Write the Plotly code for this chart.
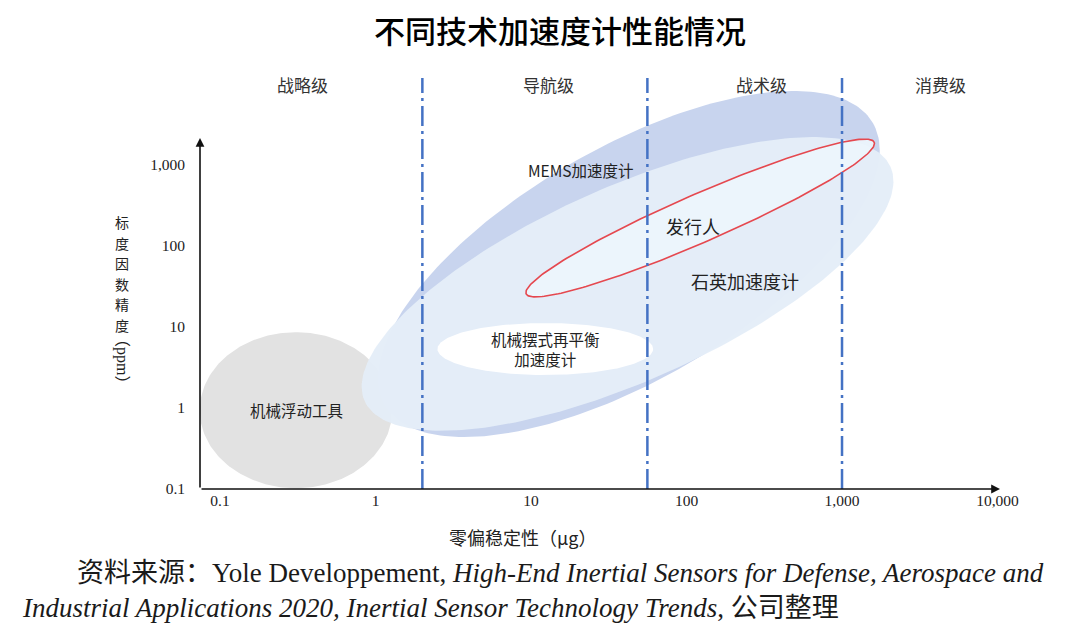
import numpy as np
import plotly.graph_objects as go

# ---------------- data ----------------
x_tick_vals = [0.1, 1, 10, 100, 1000, 10000]
x_tick_text = ["0.1", "1", "10", "100", "1,000", "10,000"]
y_tick_vals = [0.1, 1, 10, 100, 1000]
y_tick_text = ["0.1", "1", "10", "100", "1,000"]

# grade zones (bias stability, μg) and their boundaries
zone_names = ["战略级", "导航级", "战术级", "消费级"]
zone_label_x = [0.34, 12.9, 305, 4330]
zone_bounds = [2, 56, 1000]

# technology regions: major-axis endpoints (low end -> high end) in data units
tech_names = ["机械浮动工具", "MEMS加速度计", "石英加速度计", "发行人", "机械摆式再平衡<br>加速度计"]
tech_x_low = [0.074, 1.15, 0.85, 9.3, 2.5]
tech_y_low = [0.94, 1.09, 1.22, 25.7, 5.35]
tech_x_high = [1.28, 1580, 2050, 1610, 61]
tech_y_high = [0.94, 3300, 950, 1910, 5.35]
tech_label_x = [0.31, 20.9, 238, 110, 12.3]
tech_label_y = [0.94, 867, 37, 177, 5.3]

# ---------------- styling ----------------
W, H = 1080, 632
PAGE = 8  # browser body margin
# plot area in page pixels: x 200..1000, y 70..489
ML, MT = 200 - PAGE, 70 - PAGE
plot_w, plot_h = 800, 419
MR = W - ML - plot_w
MB = H - MT - plot_h
x_range = [-1.129, 4.016]
y_range = [-1.0, 4.173]
ppx = plot_w / (x_range[1] - x_range[0])
ppy = plot_h / (y_range[1] - y_range[0])


def px(xs):
    return (xs - 200) / plot_w


def py(ys):
    return (489 - ys) / plot_h


tech_half_width_px = [78, 116, 97, 24, 26]
tech_fill = ["#e2e2e2", "#c8d4ee", "rgba(228,237,248,0.97)", "rgba(237,245,252,0.92)", "#ffffff"]
tech_line = [None, None, None, "#e5484f", None]
tech_font = [15.5, 15.5, 18, 18, 15.5]

SERIF = "Liberation Serif, Noto Sans CJK SC"
CJK = "Noto Sans CJK SC"


def ellipse(x0, y0, x1, y1, b_px, n=240):
    X0, Y0 = np.log10(x0) * ppx, np.log10(y0) * ppy
    X1, Y1 = np.log10(x1) * ppx, np.log10(y1) * ppy
    cx, cy = (X0 + X1) / 2, (Y0 + Y1) / 2
    a = np.hypot(X1 - X0, Y1 - Y0) / 2
    ang = np.arctan2(Y1 - Y0, X1 - X0)
    t = np.linspace(0, 2 * np.pi, n)
    u, v = a * np.cos(t), b_px * np.sin(t)
    X = cx + u * np.cos(ang) - v * np.sin(ang)
    Y = cy + u * np.sin(ang) + v * np.cos(ang)
    return 10 ** (X / ppx), 10 ** (Y / ppy)


fig = go.Figure()

for i, name in enumerate(tech_names):
    ex, ey = ellipse(tech_x_low[i], tech_y_low[i], tech_x_high[i], tech_y_high[i],
                     tech_half_width_px[i])
    line = dict(width=0) if tech_line[i] is None else dict(color=tech_line[i], width=1.6)
    fig.add_trace(go.Scatter(x=ex, y=ey, mode="lines", fill="toself",
                             fillcolor=tech_fill[i], line=line,
                             hoverinfo="skip", showlegend=False))

top_val = 10 ** (y_range[0] + (489 - 78) / ppy)
for b in zone_bounds:
    fig.add_trace(go.Scatter(x=[b, b], y=[0.1, top_val], mode="lines",
                             line=dict(color="#4472c4", width=2.5, dash="20px,5px,3px,5px"),
                             hoverinfo="skip", showlegend=False))

ann = []
# zone labels
for name, zx in zip(zone_names, zone_label_x):
    ann.append(dict(x=np.log10(zx), y=py(85), xref="x", yref="paper",
                    xanchor="center", yanchor="middle",
                    text=name, showarrow=False,
                    font=dict(family=CJK, size=17, color="#333333")))
# technology labels
for i, name in enumerate(tech_names):
    ann.append(dict(x=np.log10(tech_label_x[i]), y=np.log10(tech_label_y[i]),
                    xref="x", yref="y", xanchor="center", yanchor="middle",
                    text=name, showarrow=False,
                    font=dict(family=CJK, size=tech_font[i], color="#222222")))
# axis arrows
ann.append(dict(x=x_range[1], y=y_range[0], xref="x", yref="y", ax=-plot_w, ay=0,
                text="", showarrow=True, arrowhead=2, arrowsize=1.1, arrowwidth=1.6,
                arrowcolor="#111111", standoff=0))
ann.append(dict(x=x_range[0], y=y_range[0] + (489 - 138) / ppy, xref="x", yref="y",
                ax=0, ay=489 - 138, text="", showarrow=True, arrowhead=2, arrowsize=1.1,
                arrowwidth=1.6, arrowcolor="#111111", standoff=0))
# y-axis title: stacked characters + rotated unit
for k, ch in enumerate("标度因数精度"):
    ann.append(dict(x=px(122), y=py(222 + 20.5 * k), xref="paper", yref="paper",
                    xanchor="center", yanchor="middle", text=ch, showarrow=False,
                    font=dict(family=CJK, size=14, color="#222222")))
ann.append(dict(x=px(122), y=py(361), xref="paper", yref="paper",
                xanchor="center", yanchor="middle",
                text="（ppm）", textangle=90, showarrow=False,
                font=dict(family=SERIF, size=16, color="#222222")))
ann.append(dict(x=px(522), y=py(537), xref="paper", yref="paper",
                xanchor="center", yanchor="middle",
                text="零偏稳定性（μg）", showarrow=False,
                font=dict(family=CJK, size=18, color="#222222")))
# source
ann.append(dict(x=px(75), y=py(573), xref="paper", yref="paper",
                xanchor="left", yanchor="middle", showarrow=False,
                text="资料来源：Yole Developpement, <i>High-End Inertial Sensors for Defense, Aerospace and</i>",
                font=dict(family=SERIF, size=27, color="#1a1a1a")))
ann.append(dict(x=px(20), y=py(608), xref="paper", yref="paper",
                xanchor="left", yanchor="middle", showarrow=False,
                text="<i>Industrial Applications 2020, Inertial Sensor Technology Trends</i>, 公司整理",
                font=dict(family=SERIF, size=27, color="#1a1a1a")))

fig.update_layout(
    width=W, height=H,
    margin=dict(l=ML, r=MR, t=MT, b=MB),
    paper_bgcolor="white", plot_bgcolor="white",
    title=dict(text="不同技术加速度计性能情况", x=(560 - PAGE) / W, xanchor="center",
               y=1 - (32 - PAGE) / H, yanchor="middle",
               font=dict(family=CJK, size=31, color="#000000", weight=500)),
    xaxis=dict(type="log", range=x_range, tickvals=x_tick_vals, ticktext=x_tick_text,
               showgrid=False, zeroline=False, showline=False, ticks="",
               tickfont=dict(family=SERIF, size=15.5, color="#222222")),
    yaxis=dict(type="log", range=y_range, tickvals=y_tick_vals, ticktext=y_tick_text,
               showgrid=False, zeroline=False, showline=False, ticks="",
               ticklabelstandoff=14,
               tickfont=dict(family=SERIF, size=15.5, color="#222222")),
    annotations=ann,
    showlegend=False,
)

fig.write_html("out.html")
